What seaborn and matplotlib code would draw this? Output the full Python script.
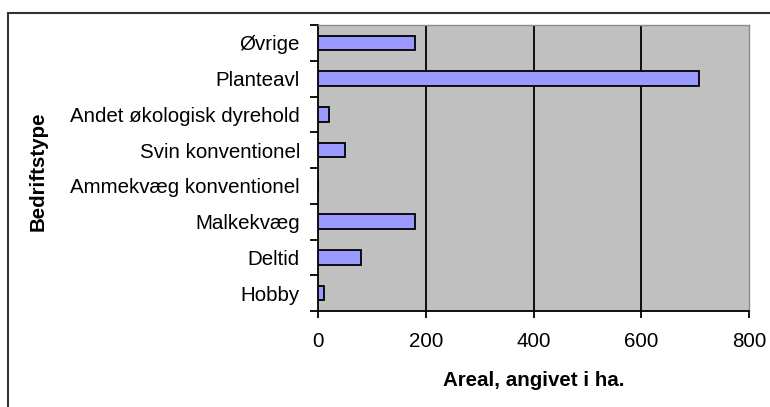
import matplotlib
matplotlib.use('Agg')
import matplotlib.pyplot as plt
import numpy as np
import pandas as pd
import seaborn as sns
from matplotlib.patches import Rectangle

# values (hectares)
bedriftstyper = ['Øvrige', 'Planteavl', 'Andet økologisk dyrehold', 'Svin konventionel',
                 'Ammekvæg konventionel', 'Malkekvæg', 'Deltid', 'Hobby']
areal = [180, 707, 20, 50, 0, 180, 79, 11]

df = pd.DataFrame({'Bedriftstype': bedriftstyper, 'Areal': areal})

sns.set_style('white')
plt.rcParams['font.family'] = ['Liberation Sans', 'DejaVu Sans']
plt.rcParams['text.color'] = 'black'
plt.rcParams['axes.labelcolor'] = 'black'
plt.rcParams['xtick.color'] = 'black'
plt.rcParams['ytick.color'] = 'black'

fig = plt.figure(figsize=(7.7, 4.07), dpi=100)
ax = fig.add_axes([318 / 770, 1 - 311 / 407, (749 - 318) / 770, (311 - 25) / 407])

sns.barplot(data=df, x='Areal', y='Bedriftstype', orient='h', color='#9999FF',
            saturation=1, width=0.4, edgecolor='black', linewidth=1.3, ax=ax, zorder=3)

ax.set_facecolor('#C0C0C0')
ax.set_xlim(0, 800)
ax.set_ylim(7.5, -0.5)
ax.set_xticks([0, 200, 400, 600, 800])
for v in [200, 400, 600]:
    ax.axvline(v, color='black', linewidth=1.3, zorder=1)

# tick marks sit between the categories
ax.set_yticks(np.arange(-0.5, 8.0, 1.0), minor=True)
ax.tick_params(axis='y', which='major', length=0, pad=13, labelsize=14.8)
ax.tick_params(axis='y', which='minor', length=6, width=1.3, color='black', direction='out', left=True)
ax.tick_params(axis='x', which='major', length=5, width=1.3, color='black', direction='out',
               bottom=True, pad=10, labelsize=14.8)

for side in ['left', 'bottom']:
    ax.spines[side].set_color('black')
    ax.spines[side].set_linewidth(1.3)
for side in ['top', 'right']:
    ax.spines[side].set_color('#8c8c8c')
    ax.spines[side].set_linewidth(1.0)

ax.set_xlabel('Areal, angivet i ha.', fontsize=14.8, fontweight='bold', va='center')
ax.xaxis.set_label_coords(0.5, (311 - 380) / 286)
ax.set_ylabel('Bedriftstype', fontsize=14.8, fontweight='bold', va='center')
ax.yaxis.set_label_coords((38 - 318) / 431, 0.49)

# outer frame of the chart, clipped by the image edges
fig.patches.append(Rectangle((8 / 770, -0.05), 1.2, 1 - 13 / 407 + 0.05, transform=fig.transFigure,
                             fill=False, edgecolor='#333333', linewidth=1.5))

fig.savefig('out.png', dpi=100)
